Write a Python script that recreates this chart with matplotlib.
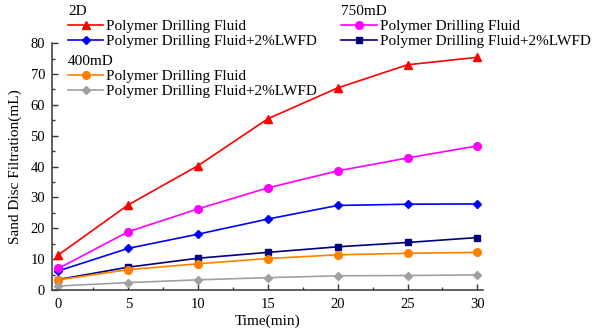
import matplotlib
matplotlib.use("Agg")
import matplotlib.pyplot as plt
from matplotlib.ticker import MultipleLocator

plt.rcParams["font.family"] = ["Liberation Serif", "DejaVu Serif"]

time_min = [0, 5, 10, 15, 20, 25, 30]

# 2D
d2_polymer = [11.4, 27.6, 40.3, 55.5, 65.5, 73.0, 75.4]
d2_lwfd = [6.2, 13.5, 18.1, 23.0, 27.4, 27.8, 27.9]
# 750mD
md750_polymer = [7.0, 18.9, 26.3, 33.1, 38.6, 42.8, 46.7]
md750_lwfd = [3.4, 7.4, 10.3, 12.2, 14.0, 15.4, 17.0]
# 400mD
md400_polymer = [3.3, 6.6, 8.5, 10.2, 11.4, 11.9, 12.2]
md400_lwfd = [1.3, 2.4, 3.3, 4.0, 4.6, 4.7, 4.9]

label_a = "Polymer Drilling Fluid"
label_b = "Polymer Drilling Fluid+2%LWFD"

fig = plt.figure(figsize=(5.98, 3.32), dpi=100)
ax = fig.add_axes([0.087, 0.1265, 0.721, 0.7435])

lw = 1.2
l1, = ax.plot(time_min, d2_polymer, color="#ff0000", marker="^", markersize=5.5, linewidth=lw, label=label_a)
l2, = ax.plot(time_min, d2_lwfd, color="#0000ff", marker="D", markersize=4.5, linewidth=lw, label=label_b)
l3, = ax.plot(time_min, md750_polymer, color="#ff00ff", marker="o", markersize=5.5, linewidth=lw, label=label_a)
l4, = ax.plot(time_min, md750_lwfd, color="#000080", marker="s", markersize=4.5, linewidth=lw, label=label_b)
l5, = ax.plot(time_min, md400_polymer, color="#ff8000", marker="o", markersize=5.5, linewidth=lw, label=label_a)
l6, = ax.plot(time_min, md400_lwfd, color="#a0a0a0", marker="D", markersize=4.5, linewidth=lw, label=label_b)

ax.set_xlim(-0.46, 30.42)
ax.set_ylim(0, 80)
ax.xaxis.set_major_locator(MultipleLocator(5))
ax.xaxis.set_minor_locator(MultipleLocator(2.5))
ax.yaxis.set_major_locator(MultipleLocator(10))
ax.yaxis.set_minor_locator(MultipleLocator(5))
ax.tick_params(which="both", direction="in", labelsize=10.5, color="#333333")
ax.tick_params(which="major", length=4, width=1)
ax.tick_params(which="minor", length=2.5, width=1)
ax.tick_params(axis="x", pad=6)
ax.tick_params(axis="y", pad=5)
for s in ("top", "right"):
    ax.spines[s].set_visible(False)
for s in ("left", "bottom"):
    ax.spines[s].set_color("#444444")
    ax.spines[s].set_linewidth(1.2)

ax.set_xlabel("Time(min)", fontsize=11, labelpad=2)
ax.set_ylabel("Sand Disc Filtration(mL)", fontsize=11, labelpad=6)

leg_kw = dict(loc="upper left", frameon=False, fontsize=11, title_fontsize=11,
              alignment="left", handlelength=2.3, handletextpad=0.2,
              labelspacing=0.1, borderpad=0, borderaxespad=0)
fig.legend([l1, l2], [label_a, label_b], title="2D",
           bbox_to_anchor=(0.114, 0.985), **leg_kw)
fig.legend([l3, l4], [label_a, label_b], title="750mD",
           bbox_to_anchor=(0.571, 0.985), **leg_kw)
fig.legend([l5, l6], [label_a, label_b], title="400mD",
           bbox_to_anchor=(0.114, 0.835), **leg_kw)

fig.savefig("out.png", dpi=100)
